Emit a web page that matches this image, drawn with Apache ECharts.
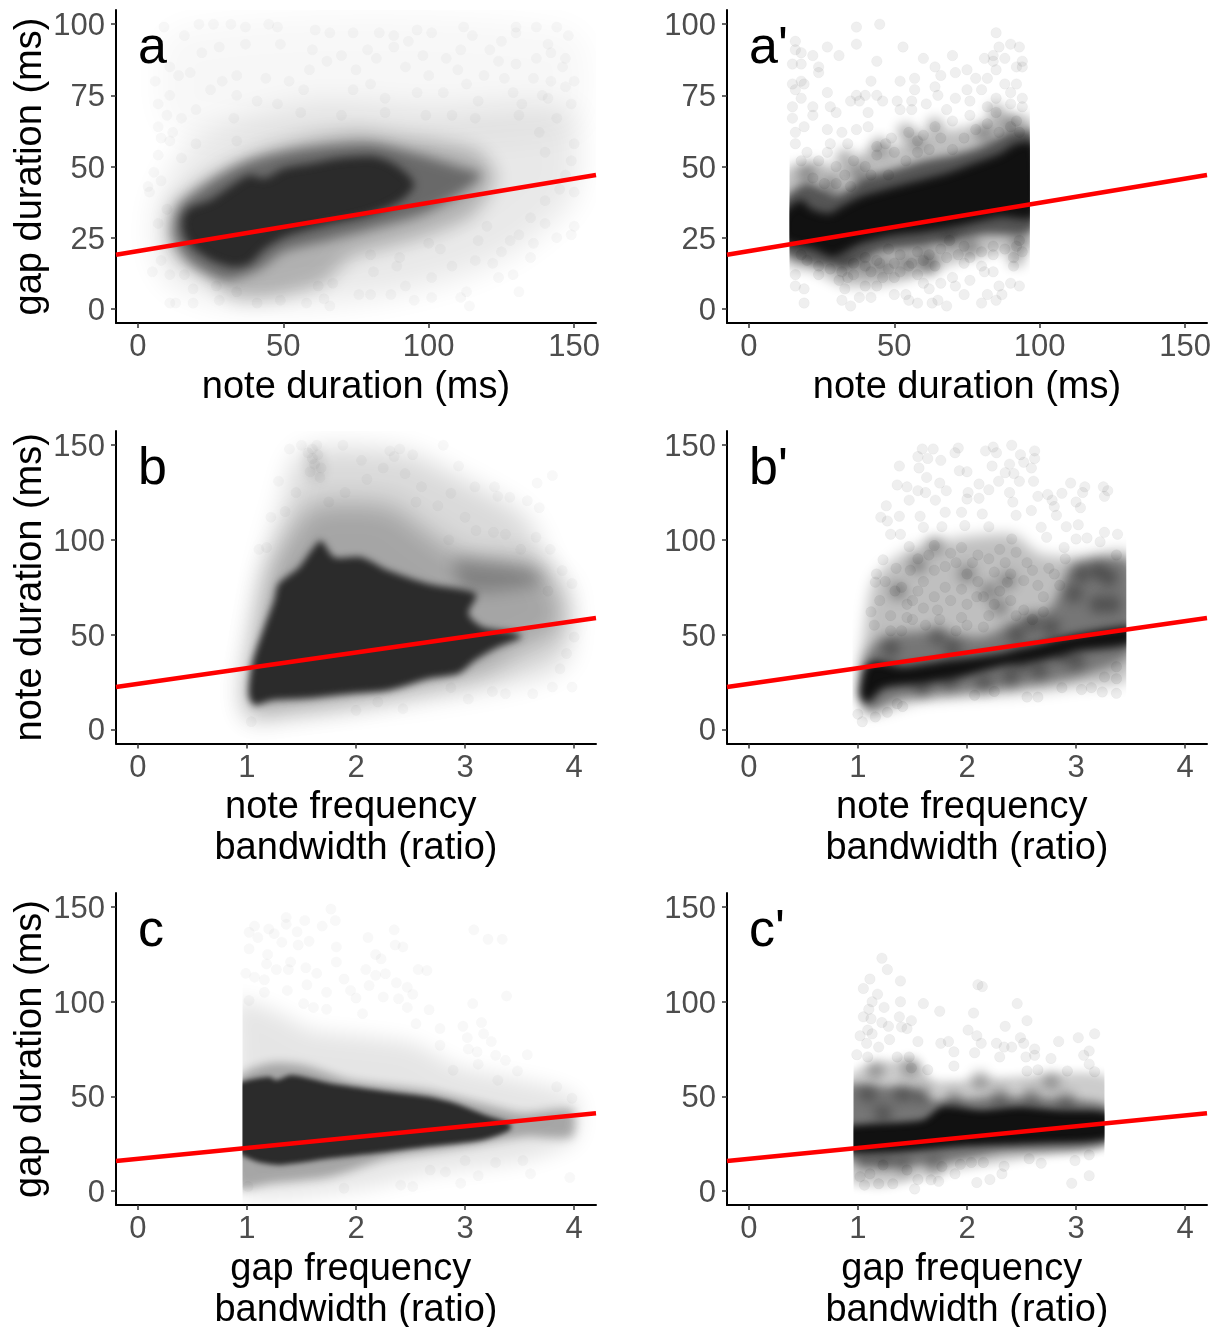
<!DOCTYPE html>
<html><head><meta charset="utf-8">
<style>html,body{margin:0;padding:0;background:#fff}#c{width:1222px;height:1327px}</style>
<script src="https://cdn.jsdelivr.net/npm/echarts@6/dist/echarts.min.js"></script>
</head><body><div id="c"></div>
<script>
// ---- regression lines [x,y] at the panel edges
const lineA=[[-7.5,19],[157.5,47]];
const lineB=[[-0.2,22.3],[4.2,58.8]];
const lineC=[[-0.2,15.8],[4.2,41]];
// ---- tick labels
const ticksDur=[0,50,100,150];
const ticksGap=[0,25,50,75,100];
const ticksRatio=[0,1,2,3,4];
// ---- dense-cloud outlines (data units)
const coreA=[[15.3,31.1],[17.5,35.2],[24.9,38.1],[31.6,42.8],[38.3,46.9],[43.6,45.8],[50.3,49.3],[59.7,51],[69,52.8],[81,53.4],[87.8,51],[93,47],[95,43.4],[92,39.3],[86.5,35.8],[77,32.3],[63.7,29.3],[51.7,25.8],[43.6,21.1],[38.3,15.8],[32.9,14.7],[25.6,17],[19.5,21.1],[16.2,25.2]];
const innerA=[[14,36],[25,45],[38,52],[55,56],[80,58],[97,54],[110,50],[118,47],[110,40],[97,33],[80,28],[65,24],[50,20],[42,14],[30,10],[18,16],[12,26]];
const midA=[[11.5,35.8],[19.5,42.8],[30.3,49.9],[43.6,55.8],[59.7,60],[75.8,62],[91.8,60],[106.6,58],[117.3,55],[123,46.4],[115,33],[100,26],[86.5,22],[73,18],[63.7,9],[46.3,4],[32.9,4],[22.2,12.3],[12.9,18.2],[10.2,26.4]];
const haloA=[[8,40],[20,60],[60,72],[100,70],[148,70],[150,40],[132,22],[112,12],[85,5],[60,2],[33,2],[12,9],[7,18],[6,30]];
const topA=[[12,98],[150,98],[150,62],[12,62]];
const coreA2=[[12,33.5],[18.2,38.1],[20.9,35.2],[27.6,33.5],[31.6,35.8],[38.3,39.3],[46.3,41.7],[57,44.6],[67.7,47.5],[77.1,51],[86.5,54.6],[91.8,58],[98,58],[98,32.3],[86.5,32.3],[73,29.3],[59.7,27],[49,25.8],[38.3,22.9],[29,18.2],[22.2,21],[12,24]];
const innerA2=[[12,38],[20,44],[30,40],[40,46],[50,49],[60,52],[70,54],[80,57],[90,62],[98,62],[98,28],[80,26],[60,22],[45,20],[35,15],[25,15],[12,20]];
const midA2=[[12,48],[22.2,52],[31.6,50],[41,56],[54.4,58],[66.4,62],[79.8,65],[91.8,68],[98,66],[98,22],[86.5,20],[70.4,16],[54.3,10],[43.6,8],[32.9,8],[22.2,13],[12,16]];
const coreB=[[1.02,24],[1.055,36.4],[1.16,54],[1.25,68],[1.29,76.8],[1.48,85.6],[1.59,94.4],[1.68,99.6],[1.8,90.9],[2.05,90.9],[2.3,83.8],[2.66,76.8],[3.1,71.5],[3.03,61],[3.16,54],[3.44,51.3],[3.52,48.7],[3.3,43.4],[3.09,36.4],[2.94,29.4],[2.66,26.7],[2.3,20.6],[1.95,18.8],[1.52,16.2],[1.23,15.3],[1.07,12.7],[1.02,17]];
const midB=[[1.2,84],[1.4,104],[1.6,118],[2.3,118],[2.7,102],[3,92],[3.7,88],[3.85,72],[3.9,54],[3.5,42],[3.16,30],[2.66,23],[1.95,14],[1.09,7],[1.02,7],[0.98,18.8],[1.055,43.4]];
const tailB=[[2.9,90],[3.6,85],[3.72,78],[3.3,73],[3,74]];
const haloB=[[1.04,6],[1,22],[1.08,57.5],[1.18,89],[1.33,119],[1.5,146],[2.44,146],[2.9,134],[3.55,112],[3.78,83.8],[3.95,75],[3.95,40],[3.8,31],[3.37,24],[2.66,17],[1.95,12],[1.23,8]];
const blobB=[[1.54,147],[1.68,147],[1.7,132],[1.58,132]];
const coreB2=[[1.02,22],[1.07,33],[1.16,36],[1.41,33],[1.77,36],[2.3,40],[2.66,45],[3,50],[3.5,54],[3.5,45],[3,41],[2.66,36],[2.3,33],[1.95,27.6],[1.59,24],[1.23,21.4],[1.09,13.5],[1.02,17]];
const midB2=[[1.05,36],[1.23,48.7],[1.7,52],[2.13,48.7],[2.45,57.5],[2.77,64.5],[2.98,87.3],[3.5,88],[3.5,40],[3,27.6],[2.66,24],[1.95,19],[1.38,16],[1.09,9]];
const lightB2=[[1.055,48.7],[1.16,80],[1.52,96],[2.41,103],[2.66,92.6],[3.02,91],[3.5,92.6],[3.5,27.6],[3,22.3],[2.48,18.8],[1.59,15.3],[1.09,8],[1,18]];
const coreC=[[0.9,41],[0.9,55.9],[1.2,60.3],[1.27,58.5],[1.41,61.2],[1.77,56.8],[2.3,52.4],[2.66,49.7],[2.91,46.2],[3.19,40],[3.41,35.7],[3.41,32.2],[3.16,26.9],[2.66,23.4],[2.3,20.7],[1.77,17.2],[1.3,13.7],[1.09,15.5],[0.9,21.6]];
const midC=[[0.9,58.5],[1.2,67.3],[1.52,66.4],[1.95,58.5],[2.66,53],[3.16,46],[3.52,41],[3.98,42.7],[3.98,28.6],[3.55,28.6],[3.02,23.4],[2.3,17.2],[1.77,7.6],[1.23,4],[0.9,2.3]];
const haloC=[[0.9,72.6],[0.9,100.7],[1.3,93.7],[1.59,85],[2.12,81.4],[2.52,78],[2.94,65.6],[3.37,60.3],[4.01,49.7],[4.01,27],[3.55,16.3],[2.66,9.3],[1.95,0.5],[0.9,0]];
const coreC2=[[0.9,28.6],[0.9,34],[1.59,37.4],[1.77,44.5],[2.13,42.7],[2.48,44.5],[2.84,42.7],[3.3,41],[3.3,27.8],[2.66,25],[1.95,23.4],[1.41,20.7],[0.9,20.7]];
const midC2=[[0.9,55],[1.23,55],[1.52,54],[1.7,48],[2.3,49.7],[3.02,48],[3.3,44.5],[3.3,24.3],[2.3,19.9],[1.77,14.6],[1.23,12.8],[0.9,18]];
const lightC2=[[0.9,60],[1.16,67],[1.52,69],[1.7,58.5],[2.3,60],[3.3,60],[3.3,25],[2.66,18],[1.77,9.3],[1.23,2.3],[0.9,5.8]];
// ---- darker clumps inside the mottled clouds
const clumpsA2=[[45,57],[38,47.5],[33,53],[58,59],[64,64],[54,62],[81,62],[90,65],[85,69],[28,43],[20,47.5],[17,33],[92,18],[40,15],[46,15],[54,16],[61,18],[69,24],[76,22],[93,24],[33,15],[62,15]];
const clumpsB2=[[2,82],[1.7,97],[2.37,78.6],[1.37,73],[1.55,87],[2.2,73],[2.3,64.5],[1.73,50],[1.87,43],[1.3,43],[2.45,50],[2.59,57],[2.77,54],[2.98,71.5],[3.05,82],[3.2,84],[3.3,80],[3.2,66],[3.33,66],[2.87,40],[2.5,36],[2.16,24],[2.4,27.6],[2.66,31],[3,36],[1.84,26],[1.59,22]];
const clumpsC2=[[1.16,64],[1.48,65],[1.09,51.5],[1.41,51.5],[1.59,51.5],[1.23,41],[1.06,14.6],[1.23,14.6],[1.41,13],[1.7,13],[1.88,48],[2.3,50],[2.59,50],[2.91,48],[2.12,58.5],[2.77,57.6]];
// ---- individual points
const pointsA=[[9,99],[21,100],[26,100],[32,100],[37,99],[45,100],[48,99],[61,98],[66,97],[74,97],[83,97],[88,96],[96,98],[101,97],[112,99],[115,96],[130,99],[137,99],[144,99],[148,96],[130,97],[16,96],[28,92],[37,93],[49,93],[60,91],[79,91],[88,92],[93,94],[98,89],[106,88],[111,91],[121,91],[125,94],[141,93],[142,90],[147,88],[146,85],[137,88],[130,86],[11,85],[18,83],[22,90],[29,80],[34,82],[44,81],[52,80],[59,84],[65,87],[75,84],[70,89],[82,88],[92,85],[100,82],[110,84],[119,82],[124,87],[136,81],[150,80],[6,80],[14,82],[25,77],[34,75],[57,77],[74,77],[80,79],[96,76],[105,76],[113,79],[126,81],[129,76],[139,75],[147,78],[142,80],[7,72],[11,75],[20,70],[41,73],[48,72],[85,74],[117,73],[132,72],[141,74],[149,72],[10,68],[15,67],[33,67],[56,69],[70,68],[85,69],[99,68],[108,68],[116,67],[131,68],[144,67],[7,64],[12,62],[8,60],[11,59],[20,58],[34,59],[7,54],[15,53],[138,62],[140,55],[150,58],[149,52],[5.5,48],[3.5,43],[4,41],[8,45],[147,47],[145,42],[150,41],[10,35],[7,30],[140,38],[135,32],[150,29],[140,30],[131,26],[128,24],[136,23],[144,25],[149,26],[8,17],[5,13],[11,12],[16,12],[11,2],[13,2],[19,2],[19,7],[27,8],[28,3],[34,6],[41,2],[49,3],[58,2],[66,1],[64,3.5],[76,5],[80,5],[87,5],[95,3],[101,4],[111,4],[113,6],[114,1],[131,6],[124,11],[129,12],[135,18],[125,20],[122,16],[116,17],[108,15],[104,21],[100,23],[101,11],[92,8],[89,15],[90,18],[80,19],[67,9],[62,8],[81,13],[120,29],[117,24]];
const pointsA2=[[37,99],[45,100],[85,97],[16,94],[16,91],[18,90],[22,89],[27,92],[31,89],[37,93],[53,92],[44,87],[60,88],[70,89],[86,92],[90,93],[93,92],[81,88],[84,89],[88,88],[84,87],[94,87],[15,86],[18,86],[24,85],[92,85],[94,85],[64,85],[66,82],[71,83],[75,84],[85,84],[24,83],[18,80],[15,79],[19,79],[16,77],[42,80],[52,80],[57,81],[57,77],[64,78],[78,81],[82,81],[88,79],[92,79],[75,77],[80,77],[90,76],[27,76],[37,75],[40,75],[44,75],[65,75],[85,74],[94,74],[18,74],[35,73],[38,73],[46,73],[51,73],[56,73],[61,72],[71,74],[76,73],[15,71],[22,71],[28,71],[90,72],[94,71],[82,71],[52,70],[85,69],[30,69],[22,68],[15,67],[41,69],[56,70],[68,70],[76,68],[92,66],[70,66],[37,63],[41,64],[64,64],[27,63],[32,62],[19,64],[16,62],[49,60],[55,62],[44,57],[28,58],[58,59],[34,58],[19,2],[16,12],[16,8],[19,7],[24,12],[32,3],[35,1],[38,4],[42,4],[31,10],[33,7],[40,8],[44,8],[50,5],[54,5],[55,3],[58,2],[63,2],[65,3],[68,1],[74,5],[80,2],[82,5],[85,3],[87,5],[86,8],[90,9],[93,8],[71,8],[66,9],[62,7],[60,9],[70,11],[76,10],[81,13],[84,13],[91,15],[91,18],[80,15],[74,16],[94,20],[74,22],[69,24],[93,24],[84,19],[62,19],[52,19],[55,15],[58,12],[46,11],[50,11],[36,12],[40,15],[45,16],[20,55],[24,52],[27,55],[30,50],[33,47],[36,52],[40,50],[44,54],[47,58],[50,55],[54,52],[58,55],[16,58],[18,52],[22,46],[26,44],[30,44],[35,43],[42,47],[48,47],[62,56],[66,60],[70,56],[74,60],[78,63],[82,65],[86,62],[90,64],[93,62],[60,61],[24,15],[28,14],[32,13],[36,16],[40,18],[44,17],[48,14],[52,13],[56,16],[60,17],[64,15],[68,18],[72,19],[76,18],[80,20],[84,22],[88,21],[92,22],[20,17],[18,19],[34,11],[42,13],[50,16],[66,21],[58,20],[48,21]];
const pointsB=[[3.8,134],[3.66,130],[3.27,128],[3.41,122.5],[3.57,120.7],[3.68,117],[3.09,128],[2.87,124.6],[3.3,123],[2.8,150],[2.94,139],[1.39,148],[1.5,150],[1.88,150],[2.05,142],[2.31,147],[2.52,145],[1.29,131],[1.22,112],[1.11,95],[1.18,96],[3.37,103],[3.65,101.4],[3.78,95],[3.51,95],[3.26,104],[3.98,77],[3.89,83.8],[3.76,73],[4,48.7],[3.93,40],[3.87,32],[3.98,22.3],[3.8,22.3],[3.62,18.8],[3.37,18.8],[3.25,20],[3.03,16],[2.87,22],[2.43,10.9],[2,10],[2.2,14.4],[1.04,4],[1.6,148],[1.65,145],[1.62,140],[1.58,136],[1.67,133],[1.6,143],[1.64,150],[1.68,138],[1.56,146],[2.4,148],[2.35,144],[2.25,138],[2.45,135],[2.1,132],[2.6,128],[2.55,120],[2.75,118],[1.9,125],[1.75,120],[1.45,125],[1.35,115],[3,112],[3.1,105],[2.85,100]];
const pointsB2=[[1.59,148],[1.69,148],[1.92,148.5],[1.89,146],[2.17,147],[2.24,149],[2.27,146],[2.41,150],[2.49,145],[2.62,147],[2.62,143],[1.55,144],[1.64,143],[1.76,142],[1.38,139],[1.56,138],[1.93,136.5],[2,136],[2.23,139],[2.39,140],[2.52,141],[2.59,138],[2.35,135.5],[2.43,135],[1.63,133],[1.36,129],[1.45,128],[1.55,126],[1.62,125],[1.75,130],[1.81,126],[2.01,125],[2.11,129.5],[2.2,126.5],[2.29,131],[2.48,131],[2.61,131],[2.39,125],[2.95,130],[3.08,128],[3.25,128],[3.29,126],[3.26,123],[3.06,125],[2.87,124.6],[2.74,124],[2.78,121],[2.65,123],[1.26,118],[1.47,121],[1.71,121],[2,121.6],[2.11,122],[2.42,120],[3,120],[3.04,117],[2.8,117.6],[1.21,112],[1.27,110],[1.38,112.5],[1.57,112.5],[1.8,114.6],[1.95,114.6],[2.14,113.7],[2.45,113],[2.59,115.5],[2.82,113],[3.02,108],[2.91,107],[1.3,103],[1.39,103],[1.6,106.7],[1.77,107],[1.98,107.6],[2.2,107],[2.41,100.5],[2.68,106.7],[3.26,104],[3.38,103],[3.1,101],[3,100.5],[3.22,99],[3.37,92],[2.89,96],[2.73,101.4],[1.47,96.5],[1.23,89.5],[1.17,82],[1.16,77.7],[1.7,97],[2.2,90],[2.45,93.5],[2,82],[2.37,77.7],[1.48,84],[1.8,75],[2.09,70],[2.3,73],[2.52,78.6],[1.34,73],[1.2,68],[1.73,63],[1.45,59],[1.95,59],[2.52,63],[1.04,4],[1,8],[1.16,6.5],[1.27,9],[1.36,13.5],[1.41,12],[3.37,26.7],[3.37,19],[3.24,19.7],[3.14,22],[3.05,21],[2.87,22],[2.65,17],[2.55,17],[2.07,18],[2.25,20],[3.37,33],[3.26,27.6],[1.6,78],[1.7,84],[1.9,88],[2.1,78],[2.25,83],[2.6,84],[2.7,70],[2.85,76],[1.5,68],[1.62,55],[1.85,68],[2.0,66],[2.2,60],[2.4,68],[2.6,58],[1.3,60],[1.4,52],[1.9,52],[2.15,54],[1.35,85],[1.55,90],[1.65,92],[1.85,93],[1.95,96],[2.1,92],[2.3,95],[2.55,88],[2.75,85],[2.9,90],[1.25,78],[1.4,75],[1.55,73],[1.7,70],[1.95,74],[2.15,70],[2.4,82],[2.65,76],[2.8,82],[1.3,52],[1.5,58],[1.75,58],[2,55],[2.25,66],[2.45,60],[2.7,62],[2.35,88],[1.8,86],[2.05,88],[1.6,64],[1.45,66],[1.15,55],[1.12,62]];
const pointsC=[[1.77,149],[1.36,144.6],[1.36,141],[1.07,140],[1.53,143],[1.81,143],[1.69,140],[2.35,138],[3.08,138],[1.02,136.7],[1.2,138.5],[1.25,136],[1.46,137],[2.11,134],[3.21,133],[3.34,133],[1.1,134],[1.32,131.5],[1.57,132],[1.47,130],[1.02,128],[1.82,129],[2.36,130],[2.43,129],[1.19,125],[2.18,125],[2.23,122.7],[1.82,121],[1.4,121],[1.18,120],[1.54,118],[1.27,117],[1.38,117],[1.64,115],[2.09,117],[2.57,117],[2.65,116.5],[0.99,115],[1.07,113],[1.16,111.6],[1.89,112],[2.18,114],[2.27,114.8],[2.37,110],[1.55,109],[2.12,108.6],[1.37,106],[1.95,106],[2.47,107.7],[1.73,105],[1.16,105],[3.38,103],[2,102],[2.25,102.5],[2.52,104],[1.02,100.7],[1.52,99],[2.39,101.6],[3.07,99],[1.61,97],[1.73,96],[2.47,97],[2.67,95.8],[2.06,93.7],[2.55,88.4],[2.77,85.8],[2.98,87],[3.15,89],[3.02,81],[3.17,83],[3.24,79],[2.77,77],[3.03,75],[3.11,73.5],[3.28,71.7],[3.57,72],[3.37,69],[3.12,67],[2.89,63.8],[3.48,63.4],[3.3,58.5],[3.84,55],[3.98,49],[3.96,7],[3.6,9],[2.96,4],[3.12,8],[2.82,10],[2.52,2.3],[2.41,3],[1.89,1.4],[1.01,2.3],[3.53,16],[3.28,15],[3,16],[2.68,11]];
const pointsC2=[[1.22,123],[1.27,117],[1.11,112],[1.39,111],[1.05,107],[2.1,109],[2.14,108],[1.18,104],[1.13,100],[1.39,100],[1.6,99],[2.46,99],[1.24,97],[1.1,96],[1.75,95],[2.06,94],[1.05,92],[1.12,91],[1.38,92],[1.49,90],[2.55,90],[1.22,89],[1.28,87],[2.35,87],[1.4,86.6],[1.45,85.8],[2.01,85],[1.09,85],[1.02,82],[1.13,83],[2.09,82],[3.17,83],[3.02,81],[2.49,81],[1.29,80],[1.55,79],[1.76,78],[1.83,79],[2.13,78],[2.27,78],[2.84,79],[2.52,78],[1.19,76],[1.08,78],[2.34,76],[2.41,76],[2.62,75],[1.88,73.5],[2.07,73],[3.12,74],[3.07,71.7],[0.99,72],[2.3,70.8],[2.54,70.8],[2.62,71.7],[2.77,70],[1.36,70.8],[1.47,70.8],[1.09,70.8],[1.49,65],[1.64,64],[1.88,66],[3.12,67],[2.55,63.4],[2.92,63.4],[3.17,63],[2.65,64],[1.52,1],[1.06,3],[1.19,3.7],[1.32,3.7],[1.55,6],[1.67,5.8],[1.74,5],[2.09,4.4],[2.21,6],[2.96,4],[3.12,8],[2.32,9],[1.89,9],[1.02,7.5],[1.11,9],[2.34,13],[2.68,14.6],[2.99,16],[3.12,19],[2.15,15],[2.04,15],[1.94,14],[2.57,17],[1.77,12.8],[1.45,11],[1.23,13.7]];

// ---- panel table built from the arrays above
const tick='#333333', lab='#4d4d4d', FONT='"Liberation Sans",Arial,sans-serif';
const soft='rgba(0,0,0,', dark='#2b2b2b', deep='#111111', OFF=3000;
const panels=[
 {label:'a', L:116,T:10,B:323,xr:[-7.5,157.5],yr:[-5,105],xt:ticksDur,yt:ticksGap,xn:'note duration (ms)',yn:'gap duration (ms)',line:lineA,pts:pointsA,pa:.035,cut:[-7.5,157.5],
  under:[[topA,soft+'.03)',30],[haloA,soft+'.09)',30],[midA,soft+'.24)',18],[innerA,soft+'.4)',12]],over:[[coreA,dark,9]]},
 {label:"a'",L:727,T:10,B:323,xr:[-7.5,157.5],yr:[-5,105],xt:ticksDur,yt:ticksGap,xn:'note duration (ms)',yn:'',line:lineA,pts:pointsA2,pa:.08,cut:[14,96.6],clumps:clumpsA2,
  under:[[midA2,soft+'.25)',12],[innerA2,soft+'.55)',9]],over:[[coreA2,deep,8]]},
 {label:'b', L:116,T:431,B:743.5,xr:[-.2,4.2],yr:[-7.5,157.5],xt:ticksRatio,yt:ticksDur,xn:'note frequency \nbandwidth (ratio)',yn:'note duration (ms)',line:lineB,pts:pointsB,pa:.035,cut:[-.2,4.2],
  under:[[haloB,soft+'.15)',26],[blobB,soft+'.1)',12],[midB,soft+'.24)',26],[tailB,soft+'.22)',16]],over:[[coreB,dark,7]]},
 {label:"b'",L:727,T:431,B:743.5,xr:[-.2,4.2],yr:[-7.5,157.5],xt:ticksRatio,yt:ticksDur,xn:'note frequency \nbandwidth (ratio)',yn:'',line:lineB,pts:pointsB2,pa:.08,cut:[.95,3.46],clumps:clumpsB2,
  under:[[lightB2,soft+'.25)',14],[midB2,soft+'.38)',12]],over:[[coreB2,deep,9]]},
 {label:'c', L:116,T:893,B:1205,xr:[-.2,4.2],yr:[-7.5,157.5],xt:ticksRatio,yt:ticksDur,xn:'gap frequency \nbandwidth (ratio)',yn:'gap duration (ms)',line:lineC,pts:pointsC,pa:.035,cut:[.96,4.2],
  under:[[haloC,soft+'.1)',20],[midC,soft+'.28)',10]],over:[[coreC,dark,5]]},
 {label:"c'",L:727,T:893,B:1205,xr:[-.2,4.2],yr:[-7.5,157.5],xt:ticksRatio,yt:ticksDur,xn:'gap frequency \nbandwidth (ratio)',yn:'',line:lineC,pts:pointsC2,pa:.08,cut:[.96,3.26],clumps:clumpsC2,
  under:[[lightC2,soft+'.2)',10],[midC2,soft+'.42)',9]],over:[[coreC2,deep,7]]}
];
function clipRect(api,cut,yr){
  const a=api.coord([cut[0],yr[1]]),b=api.coord([cut[1],yr[0]]);
  return {type:'rect',shape:{x:a[0],y:a[1],width:b[0]-a[0],height:b[1]-a[1]}};
}
function cloud(i,layer,cut,yr){
  return {type:'custom',xAxisIndex:i,yAxisIndex:i,silent:true,clip:true,data:[[layer[0][0][0],layer[0][0][1]]],
    renderItem:(p,api)=>({type:'group',clipPath:clipRect(api,cut,yr),children:[{type:'polygon',x:-OFF,
        shape:{points:layer[0].map(v=>api.coord(v)),smooth:.25},
        style:{fill:'#000',shadowBlur:layer[2],shadowColor:layer[1],shadowOffsetX:OFF}}]})};
}
function clumps(i,data,cut,yr){
  return {type:'custom',xAxisIndex:i,yAxisIndex:i,silent:true,clip:true,data,
    renderItem:(p,api)=>{
      const c=api.coord([api.value(0),api.value(1)]);
      return {type:'group',clipPath:clipRect(api,cut,yr),children:[{type:'circle',x:-OFF,
        shape:{cx:c[0],cy:c[1],r:9},
        style:{fill:'#000',shadowBlur:12,shadowColor:soft+'.3)',shadowOffsetX:OFF}}]};
    }};
}
const grid=[],xAxis=[],yAxis=[],series=[],title=[];
panels.forEach((p,i)=>{
  grid.push({left:p.L,top:p.T,width:480,height:p.B-p.T,outerBoundsMode:'none'});
  xAxis.push({type:'value',gridIndex:i,min:p.xr[0],max:p.xr[1],splitLine:{show:false},
    name:p.xn,nameLocation:'middle',nameGap:44,
    nameTextStyle:{fontFamily:FONT,fontSize:38,color:'#000',lineHeight:41},
    axisLine:{show:true,onZero:false,lineStyle:{color:'#000',width:2}},
    axisTick:{show:true,length:5,customValues:p.xt,lineStyle:{color:tick,width:1.5}},
    axisLabel:{customValues:p.xt,fontFamily:FONT,fontSize:31,color:lab,margin:9}});
  yAxis.push({type:'value',gridIndex:i,min:p.yr[0],max:p.yr[1],splitLine:{show:false},
    name:p.yn,nameLocation:'middle',nameRotate:90,nameGap:66,
    nameTextStyle:{fontFamily:FONT,fontSize:38,color:'#000'},
    axisLine:{show:true,onZero:false,lineStyle:{color:'#000',width:2}},
    axisTick:{show:true,length:5,customValues:p.yt,lineStyle:{color:tick,width:1.5}},
    axisLabel:{customValues:p.yt,fontFamily:FONT,fontSize:31,color:lab,margin:11,verticalAlign:'top',lineHeight:5}});
  p.under.forEach(l=>series.push(cloud(i,l,p.cut,p.yr)));
  if(p.clumps) series.push(clumps(i,p.clumps,p.cut,p.yr));
  series.push({type:'scatter',xAxisIndex:i,yAxisIndex:i,data:p.pts,symbolSize:10.5,silent:true,
    itemStyle:{color:'rgba(0,0,0,'+p.pa+')',borderColor:'rgba(0,0,0,'+(p.pa*.5)+')',borderWidth:1}});
  p.over.forEach(l=>series.push(cloud(i,l,p.cut,p.yr)));
  series.push({type:'line',xAxisIndex:i,yAxisIndex:i,data:p.line,symbol:'none',silent:true,
    lineStyle:{color:'#ff0000',width:4.5}});
  title.push({text:p.label,left:p.L+17,top:p.T+8,textStyle:{fontFamily:FONT,fontSize:52,fontWeight:'normal',color:'#000'}});
});
const chart=echarts.init(document.getElementById('c'),null,{renderer:'canvas'});
chart.setOption({animation:false,backgroundColor:'#fff',title,grid,xAxis,yAxis,series});
</script></body></html>
